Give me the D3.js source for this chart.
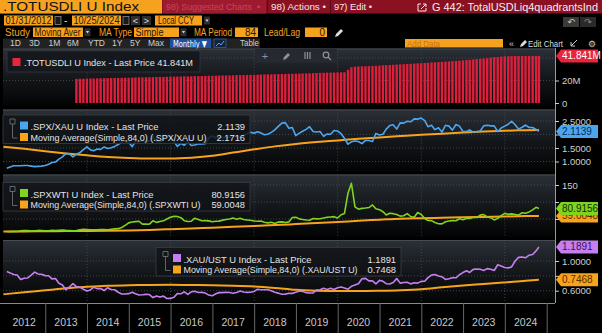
<!DOCTYPE html>
<html><head><meta charset="utf-8">
<script src="https://cdn.jsdelivr.net/npm/d3@7"></script>
<style>html,body{margin:0;padding:0;background:#000;overflow:hidden}svg{display:block;font-family:"Liberation Sans",Arial,sans-serif}</style>
</head><body><svg id="c" width="602" height="333"></svg>
<script>
// ---------- DATA ----------
const seriesStart = "2012-01";           // monthly, Jan 2012 .. Oct 2024
const lastDate = "2024-10-25";
const spxXau = [
0.75,0.80,0.84,0.84,0.84,0.85,0.85,0.83,0.81,0.82,0.83,0.85,
0.90,0.96,0.98,1.09,1.17,1.30,1.28,1.17,1.27,1.33,1.44,1.54,
1.43,1.40,1.46,1.45,1.54,1.48,1.51,1.56,1.63,1.72,1.75,1.72,
1.55,1.74,1.75,1.76,1.77,1.76,1.92,1.74,1.72,1.82,1.95,1.93,
1.74,1.56,1.67,1.60,1.73,1.59,1.61,1.66,1.65,1.66,1.87,1.95,
1.88,1.89,1.89,1.88,1.90,1.95,1.95,1.87,1.97,2.03,2.08,2.05,
2.10,2.06,1.99,2.01,2.08,2.17,2.30,2.42,2.44,2.23,2.26,1.96,
2.05,2.12,2.19,2.29,2.11,2.09,2.11,1.93,2.02,2.01,2.15,2.13,
2.03,1.86,1.64,1.73,1.76,1.74,1.66,1.78,1.78,1.74,2.04,1.98,
2.01,2.20,2.33,2.36,2.20,2.43,2.42,2.49,2.47,2.58,2.57,2.61,
2.51,2.29,2.34,2.18,2.25,2.09,2.34,2.31,2.16,2.37,2.31,2.11,
2.11,2.17,2.09,2.10,2.13,2.32,2.34,2.32,2.32,2.11,2.24,2.31,
2.38,2.49,2.36,2.20,2.27,2.35,2.26,2.26,2.19,2.1139];
const spxWti = [
13.3,12.8,13.7,13.3,15.1,16.0,15.7,14.6,15.6,16.4,15.9,15.5,
15.4,16.5,16.1,17.1,17.7,16.6,16.1,15.2,16.4,18.2,19.5,18.8,
18.3,18.1,18.4,18.9,18.7,18.6,19.7,20.9,21.6,25.1,31.2,38.6,
41.4,42.3,43.4,35.0,34.9,34.7,44.7,40.1,42.6,44.6,49.9,55.2,
57.7,57.2,53.8,45.0,42.7,43.5,52.3,48.6,45.0,45.3,44.5,41.7,
43.2,43.8,46.7,48.4,49.9,52.7,49.2,52.4,48.7,47.3,46.1,44.3,
43.6,44.1,40.7,38.6,40.4,36.6,40.9,41.6,39.8,41.5,54.2,55.2,
50.3,48.7,47.2,46.1,51.4,50.3,50.9,53.1,55.0,56.1,56.9,52.9,
62.5,65.9,126,155,85.7,78.9,81.2,82.2,83.7,91.3,80.0,77.4,
71.2,62.0,67.1,65.7,63.4,58.5,59.5,66.0,57.4,55.1,69.0,63.4,
51.2,45.7,45.2,39.5,36.0,35.8,41.9,44.1,45.1,44.8,50.6,47.8,
51.7,51.6,54.3,54.3,61.4,63.0,56.1,53.9,47.2,51.8,60.1,66.6,
63.9,65.1,63.2,61.5,68.6,67.0,70.9,76.8,84.5,80.9156];
const xauUst = [
0.857,0.840,0.818,0.812,0.750,0.768,0.772,0.810,0.850,0.824,0.820,0.803,
0.801,0.759,0.765,0.701,0.676,0.611,0.650,0.695,0.655,0.650,0.619,0.597,
0.610,0.647,0.628,0.629,0.602,0.640,0.616,0.613,0.579,0.555,0.556,0.560,
0.578,0.559,0.543,0.545,0.551,0.548,0.507,0.528,0.514,0.527,0.495,0.496,
0.512,0.560,0.558,0.585,0.550,0.585,0.593,0.575,0.577,0.568,0.541,0.531,
0.559,0.574,0.574,0.579,0.576,0.566,0.577,0.595,0.582,0.578,0.580,0.590,
0.620,0.613,0.613,0.612,0.600,0.579,0.567,0.553,0.554,0.566,0.564,0.580,
0.595,0.591,0.574,0.571,0.570,0.610,0.612,0.633,0.616,0.633,0.615,0.639,
0.651,0.637,0.621,0.659,0.676,0.693,0.760,0.766,0.732,0.733,0.691,0.739,
0.726,0.694,0.691,0.710,0.763,0.702,0.711,0.714,0.692,0.708,0.702,0.726,
0.727,0.776,0.810,0.818,0.799,0.789,0.751,0.760,0.776,0.774,0.815,0.844,
0.868,0.846,0.887,0.892,0.888,0.872,0.897,0.890,0.872,0.949,0.934,0.913,
0.907,0.921,1.000,1.049,1.053,1.043,1.078,1.088,1.136,1.1891];
const barsStart = "2013-09";             // .TOTUSDLI, millions
const totUsdLi = [
21.5,21.6,21.6,21.7,
21.8,21.8,21.9,22.0,22.1,22.1,22.2,22.3,22.3,22.4,22.5,22.5,
22.6,22.7,22.8,22.8,22.9,23.0,23.0,23.1,23.2,23.2,23.3,23.4,
23.5,23.5,23.6,23.7,23.7,23.8,23.9,23.9,24.0,24.1,24.2,24.2,
24.3,24.4,24.5,24.5,24.6,24.7,24.8,24.8,24.9,25.0,25.1,25.1,
25.2,25.3,25.4,25.5,25.5,25.6,25.7,25.8,25.9,26.0,26.0,26.1,
26.2,26.3,26.4,26.5,26.6,26.7,26.8,26.9,27.0,27.0,27.1,27.2,
27.3,27.3,29.5,31.8,32.3,32.5,32.6,32.7,32.8,33.0,33.1,33.3,
33.5,33.6,33.8,34.0,34.2,34.3,34.5,34.7,34.8,35.0,35.2,35.4,
35.6,35.8,36.0,36.2,36.4,36.6,36.8,37.0,37.2,37.4,37.6,37.9,
38.1,38.4,38.7,39.0,39.3,39.6,39.9,40.3,40.6,40.9,41.2,41.5,
41.6,41.7,41.7,41.8,41.8,41.8,41.8,41.9,41.8,41.841];
const maDates = ["2012-01","2012-07","2013-01","2013-07","2014-01","2014-07","2015-01","2015-07",
"2016-01","2016-07","2017-01","2017-07","2018-01","2018-07","2019-01","2019-07","2020-01","2020-07",
"2021-01","2021-07","2022-01","2022-07","2023-01","2023-07","2024-01","2024-07","2024-10"];
const maSpxXau = [1.55,1.47,1.38,1.30,1.23,1.17,1.13,1.11,1.11,1.14,1.21,1.33,1.45,1.56,1.65,1.72,1.78,1.84,1.89,1.94,1.99,2.03,2.07,2.11,2.14,2.16,2.1716];
const maSpxWti = [13,13.5,14,14.5,15,15.5,16.5,18,20,22,24.5,27,29.5,32,35,38,41,45,48,51,52.5,53.5,55,56,57.5,58.5,59.0048];
const maXauUst = [0.551,0.58,0.605,0.632,0.652,0.667,0.675,0.678,0.679,0.677,0.673,0.668,0.658,0.638,0.612,0.600,0.596,0.596,0.600,0.607,0.620,0.645,0.670,0.690,0.712,0.735,0.7468];
const yearLabels = ["2012","2013","2014","2015","2016","2017","2018","2019","2020","2021","2022","2023","2024"];
// tick positions; labels hidden under last-price tags are left unlabeled
const ticksP1 = [0,20], ticksP2 = [1.0,1.5,2.0,2.5], ticksP3 = [50,100,150], ticksP4 = [0.6,0.8,1.0];
const labelP1 = [0,20], labelP2 = [1.0,1.5,2.5], labelP3 = [150], labelP4 = [0.6,1.0];

// ---------- HELPERS ----------
const svg = d3.select("#c");
const parseM = d3.timeParse("%Y-%m");
function monthEnds(start, n, last){
  const s = parseM(start);
  const out = d3.range(n).map(i => new Date(s.getFullYear(), s.getMonth()+i+1, 0));
  if (last) out[n-1] = d3.timeParse("%Y-%m-%d")(last);
  return out;
}
function rect(g,x,y,w,h,fill,stroke){const r=g.append("rect").attr("x",x).attr("y",y).attr("width",w).attr("height",h).attr("fill",fill);if(stroke)r.attr("stroke",stroke).attr("stroke-width",0.8);return r;}
function T(g,x,y,s,o={}){
  const t=g.append("text").attr("x",x).attr("y",y).text(s).attr("font-size",o.size||9).attr("fill",o.fill||"#ddd");
  if(o.anchor)t.attr("text-anchor",o.anchor);
  if(o.w)t.attr("textLength",o.w).attr("lengthAdjust","spacingAndGlyphs");
  if(o.weight)t.attr("font-weight",o.weight);
  if(o.family)t.attr("font-family",o.family);
  return t;
}
const ORANGE="#f6a21e", DARKTXT="#2a1800";

// ---------- HEADER ----------
const H = svg.append("g");
rect(H,0,0,602,13.5,"#8a1121");
rect(H,0,0,162,13.5,ORANGE);
T(H,3,11.2,".TOTUSDLI U Index",{size:12.5,fill:"#111",w:136});
rect(H,163,0,103,13.5,"#9e1a2e");
T(H,166,10.3,"98) Suggested Charts",{size:9.5,fill:"#c8465a",w:86});
T(H,257,10.3,"•",{size:9,fill:"#c8465a"});
H.append("line").attr("x1",267.5).attr("x2",267.5).attr("y1",0).attr("y2",13.5).attr("stroke","#5c0914");
H.append("line").attr("x1",330.5).attr("x2",330.5).attr("y1",0).attr("y2",13.5).attr("stroke","#5c0914");
T(H,271,10.3,"98) Actions •",{size:9.5,fill:"#f3e6e8",w:55});
T(H,334,10.3,"97) Edit •",{size:9.5,fill:"#f3e6e8",w:38});
H.append("path").attr("d","M418,4 v7 h8 M418,4 h3 M426,11 v-3 M421,9 l5,-5 M423,4 h3 v3").attr("fill","none").attr("stroke","#f3e6e8").attr("stroke-width",1);
T(H,432,10.8,"G 442: TotalUSDLiq4quadrantsInd",{size:10.5,fill:"#f4eef0",w:166});

// row 2
rect(H,4,15.5,49,10,ORANGE); T(H,5.5,24,"01/31/2012",{size:10,fill:DARKTXT,w:46});
rect(H,55,16.5,6,8,"#1a1a1a","#8a8a8a");
T(H,64,24,"-",{size:10,fill:"#ddd"});
rect(H,72,15.5,49,10,ORANGE); T(H,73.5,24,"10/25/2024",{size:10,fill:DARKTXT,w:46});
rect(H,123,16.5,6,8,"#1a1a1a","#8a8a8a");
rect(H,131,16,9,9,"#2e2e2e"); T(H,135.5,23.8,"<",{size:9,fill:"#ddd",anchor:"middle"});
rect(H,142,16,9,9,"#2e2e2e"); T(H,146.5,23.8,">",{size:9,fill:"#ddd",anchor:"middle"});
rect(H,155,15.5,47,10,ORANGE); T(H,158,24,"Local CCY",{size:10,fill:DARKTXT,w:36});
rect(H,204,16.5,6,8,"#2e2e2e"); H.append("path").attr("d","M205.3,19.5 h3.4 l-1.7,2.5z").attr("fill","#ccc");
rect(H,563,17,16,10,"#3a3a3a"); T(H,571,25.3,"↶",{size:9,fill:"#ccc",anchor:"middle",family:"DejaVu Sans"});
rect(H,580,17,16,10,"#2a2a2a"); T(H,588,25.3,"↷",{size:9,fill:"#888",anchor:"middle",family:"DejaVu Sans"});

// row 3
T(H,5,36,"Study",{size:10,fill:ORANGE,w:25});
rect(H,33,27.5,50,9.5,ORANGE); T(H,34.5,35.8,"Moving Aver",{size:10,fill:DARKTXT,w:46});
rect(H,84.5,28.3,6,8,"#2e2e2e"); H.append("path").attr("d","M85.8,31 h3.4 l-1.7,2.5z").attr("fill","#ccc");
T(H,99,36,"MA Type",{size:10,fill:ORANGE,w:33});
rect(H,134,27.5,45,9.5,ORANGE); T(H,135.5,35.8,"Simple",{size:10,fill:DARKTXT,w:28});
rect(H,180.5,28.3,6,8,"#2e2e2e"); H.append("path").attr("d","M181.8,31 h3.4 l-1.7,2.5z").attr("fill","#ccc");
T(H,194,36,"MA Period",{size:10,fill:ORANGE,w:38});
rect(H,235,27.5,23,9.5,ORANGE); T(H,256,35.8,"84",{size:10,fill:DARKTXT,anchor:"end"});
T(H,264,36,"Lead/Lag",{size:10,fill:ORANGE,w:36});
rect(H,305,27.5,22,9.5,ORANGE); T(H,325,35.8,"0",{size:10,fill:DARKTXT,anchor:"end"});
H.append("path").attr("d","M335,37 l1,-3 l5,-5 l2,2 l-5,5z").attr("fill","#ddd");

// row 4
rect(H,3,38.5,257,9.5,"#222");
[["1D",10],["3D",29],["1M",48.5],["6M",67],["YTD",88],["1Y",112],["5Y",130],["Max",148]].forEach(d=>T(H,d[1],46.3,d[0],{size:8.5,fill:"#cfcfcf"}));
rect(H,170,38.5,41,9.5,"#1f509f"); T(H,173,46.5,"Monthly ▼",{size:9,fill:"#fff",w:34,family:"DejaVu Sans"});
rect(H,214,39,12,8.5,"#15233b","#2d5ea8");
H.append("path").attr("d","M216,46 l3,-3 l2,2 l3,-4").attr("fill","none").attr("stroke","#5fa0ff").attr("stroke-width",1);
T(H,240,46.3,"Table",{size:8.5,fill:"#cfcfcf",w:19});
rect(H,405,39,98,8.5,ORANGE); T(H,407,46.5,"Add Data",{size:9,fill:"#c47510",w:33});
T(H,509,46.5,"«",{size:9,fill:"#ccc"});
H.append("path").attr("d","M520,47 l1,-3 l4,-4 l2,2 l-4,4z").attr("fill","#ddd");
T(H,528,46.5,"Edit Chart",{size:9,fill:"#ddd",w:35});
H.append("path").attr("d","M571,46 l6,-6 M571,42 v4 h4").attr("fill","none").attr("stroke","#ccc");
T(H,592,47,"⚙",{size:9,fill:"#ccc",anchor:"middle",family:"DejaVu Sans"});

// ---------- SCALES ----------
const x = d3.scaleTime().domain([new Date(2012,0,1), new Date(2025,0,1)]).range([3.4,546.7]);
const PL = 3, PR = 555;
const panels = [
  {top:48.5, bot:106,  y:d3.scaleLinear().domain([0,20]).range([103,80.5])},
  {top:109.5,bot:172,  y:d3.scaleLinear().domain([1,2.5]).range([161.5,121])},
  {top:174.5,bot:237.5,y:d3.scaleLinear().domain([50,150]).range([219,185])},
  {top:240,  bot:303,  y:d3.scaleLinear().domain([0.6,1.0]).range([290.7,261])}
];
const defs = svg.append("defs");
const grad = defs.append("linearGradient").attr("id","pg").attr("x1",0).attr("x2",0).attr("y1",0).attr("y2",1);
grad.append("stop").attr("offset","0%").attr("stop-color","#2b3037");
grad.append("stop").attr("offset","55%").attr("stop-color","#121518");
grad.append("stop").attr("offset","100%").attr("stop-color","#030303");
panels.forEach((p,i)=>{
  rect(svg,PL,p.top,PR-PL,p.bot-p.top,"url(#pg)");
  svg.append("line").attr("x1",PL).attr("x2",PR).attr("y1",p.top+0.5).attr("y2",p.top+0.5).attr("stroke","#474c53");
  defs.append("clipPath").attr("id","cp"+i).append("rect").attr("x",PL).attr("y",p.top).attr("width",PR-PL).attr("height",p.bot-p.top);
});
const allTicks=[[20,40],ticksP2,ticksP3,ticksP4];
// grid
panels.forEach((p,i)=>{
  const g=svg.append("g").attr("clip-path","url(#cp"+i+")");
  allTicks[i].forEach(v=>g.append("line").attr("x1",PL).attr("x2",PR).attr("y1",p.y(v)).attr("y2",p.y(v)).attr("stroke","#4a5058").attr("stroke-dasharray","1,2").attr("stroke-width",0.8));
  [2014,2016,2018,2020,2022,2024].forEach(yr=>{const xx=x(new Date(yr,0,1));g.append("line").attr("x1",xx).attr("x2",xx).attr("y1",p.top).attr("y2",p.bot).attr("stroke","#4a5058").attr("stroke-dasharray","1,2").attr("stroke-width",0.8);});
});

// ---------- MARKS ----------
const mDates = monthEnds(seriesStart, spxXau.length, lastDate);
const bDates = monthEnds(barsStart, totUsdLi.length, lastDate);
const maD = maDates.map((d,i)=> i===maDates.length-1 ? d3.timeParse("%Y-%m-%d")(lastDate) : parseM(d));
const bw = 2.4;
const g1=svg.append("g").attr("clip-path","url(#cp0)");
g1.selectAll("rect.b").data(totUsdLi).join("rect").attr("class","b")
  .attr("x",(d,i)=>x(bDates[i])-bw/2).attr("width",bw)
  .attr("y",d=>panels[0].y(d)).attr("height",d=>panels[0].y(0)-panels[0].y(d)).attr("fill","#dc1f3c");

function drawLine(pi, dates, vals, color, w){
  const p=panels[pi];
  svg.append("path").attr("clip-path","url(#cp"+pi+")")
    .datum(vals.map((v,i)=>[dates[i],v]))
    .attr("d",d3.line().x(d=>x(d[0])).y(d=>p.y(d[1])).curve(d3.curveLinear))
    .attr("fill","none").attr("stroke",color).attr("stroke-width",w||1.6).attr("stroke-linejoin","round");
}
function drawMA(pi, vals){
  const p=panels[pi];
  svg.append("path").attr("clip-path","url(#cp"+pi+")")
    .datum(vals.map((v,i)=>[maD[i],v]))
    .attr("d",d3.line().x(d=>x(d[0])).y(d=>p.y(d[1])).curve(d3.curveMonotoneX))
    .attr("fill","none").attr("stroke","#f7a31c").attr("stroke-width",2);
}
drawMA(1, maSpxXau); drawLine(1, mDates, spxXau, "#4ba6f2");
drawMA(2, maSpxWti); drawLine(2, mDates, spxWti, "#7fd41e");
drawMA(3, maXauUst); drawLine(3, mDates, xauUst, "#c67ff0");

// ---------- RIGHT AXES ----------
const A = svg.append("g");
A.append("line").attr("x1",PR+0.5).attr("x2",PR+0.5).attr("y1",48).attr("y2",303).attr("stroke","#9a9a9a");
const fmt4 = d3.format(".4f");
const tickFmt=[v=> v===0?"0":v+"M", fmt4, d3.format("d"), fmt4];
const labelSets=[labelP1,labelP2,labelP3,labelP4];
[ticksP1,ticksP2,ticksP3,ticksP4].forEach((ts,i)=>{
  const ax = d3.axisRight(panels[i].y).tickValues(ts).tickFormat(v=> labelSets[i].includes(v) ? tickFmt[i](v) : "").tickSize(4).tickPadding(3);
  const g=A.append("g").attr("transform",`translate(${PR},0)`).call(ax);
  g.select(".domain").remove();
  g.selectAll("line").attr("stroke","#cfcfcf");
  g.selectAll("text").attr("fill","#cfcfcf").attr("font-size",9.5).attr("font-family","Liberation Sans, Arial, sans-serif");
  g.selectAll("text").filter(function(){return this.textContent==="";}).remove();
});
function tag(pi,v,txt,bg,fg){
  const yc=panels[pi].y(v);
  A.append("path").attr("d",`M556,${yc} L561,${yc-6.5} H598 V${yc+6.5} H561 Z`).attr("fill",bg);
  T(A,562,yc+3.4,txt,{size:10,fill:fg});
}
tag(0,41.841,"41.841M","#e8243f","#fff");
tag(1,2.1139,"2.1139","#4ba6f2","#0c2c55");
tag(2,59.0048,"59.0048","#f7a31c","#5a2e00");
tag(2,80.9156,"80.9156","#7fd41e","#153000");
tag(3,1.1891,"1.1891","#c67ff0","#3b0f5a");
tag(3,0.7468,"0.7468","#f7a31c","#5a2e00");

// ---------- X AXIS ----------
const X = svg.append("g");
X.append("line").attr("x1",0).attr("x2",555).attr("y1",303.5).attr("y2",303.5).attr("stroke","#8a8a8a");
const xa = d3.axisBottom(x).tickValues(d3.range(2013,2026).map(y=>new Date(y,0,1))).tickSize(30).tickFormat("");
const xg = X.append("g").attr("transform","translate(0,303)").call(xa);
xg.select(".domain").remove(); xg.selectAll("line").attr("stroke","#666");
yearLabels.forEach(y=>T(X,x(new Date(+y,6,1)),326,y,{size:10.5,fill:"#c8c8c8",anchor:"middle"}));

// ---------- LEGENDS ----------
const L = svg.append("g");
// panel 1
rect(L,7,51,193,21,"#15181c","#33373c");
rect(L,12.5,58,8,8,"#e8243f");
T(L,24,65.5,".TOTUSDLI U Index - Last Price 41.841M",{size:9.5,fill:"#e4e4e4",w:169});
// toolbar
rect(L,255,49,82,13.5,"#262a30");
T(L,265,59.5,"+",{size:11,fill:"#8d939a",anchor:"middle"});
L.append("path").attr("d","M283,60 l1,-3 l4,-4 l2,2 l-4,4z").attr("fill","#8d939a");
L.append("path").attr("d","M305,52 v7 M307.5,52 v7 M310,52 v7").attr("stroke","#8d939a").attr("stroke-width",1.2);
L.append("circle").attr("cx",326).attr("cy",55).attr("r",2.8).attr("fill","none").attr("stroke","#8d939a").attr("stroke-width",1.2);
L.append("path").attr("d","M328,57 l3,3").attr("stroke","#8d939a").attr("stroke-width",1.3);

function legend(x0,y0,w,sq,l1,v1,l1w,l2,v2,l2w){
  rect(L,x0,y0,w,28.5,"rgba(16,18,22,0.82)","#3a3e44");
  L.append("path").attr("d",`M${x0+7},${y0+4} h5 v5 h-5z M${x0+9.5},${y0+9} v14 h5`).attr("fill","none").attr("stroke","#7a7a7a").attr("stroke-width",0.8);
  rect(L,x0+17,y0+6.5,8,8,sq);
  rect(L,x0+17,y0+18,8,8,"#f7a31c");
  T(L,x0+27.5,y0+15,l1,{size:9.3,fill:"#e4e4e4",w:l1w});
  T(L,x0+w-5,y0+15,v1,{size:9.3,fill:"#e4e4e4",anchor:"end"});
  T(L,x0+27.5,y0+25.8,l2,{size:8.8,fill:"#e4e4e4",w:l2w});
  T(L,x0+w-5,y0+25.8,v2,{size:9.3,fill:"#e4e4e4",anchor:"end"});
}
legend(3,115,247,"#4ba6f2",".SPX/XAU U Index - Last Price","2.1139",128,"Moving Average(Simple,84,0) (.SPX/XAU U)","2.1716",176);
legend(3,182.5,247,"#7fd41e",".SPXWTI U Index - Last Price","80.9156",123,"Moving Average(Simple,84,0) (.SPXWTI U)","59.0048",170);
legend(156,247.5,245,"#c67ff0",".XAU/UST U Index - Last Price","1.1891",128,"Moving Average(Simple,84,0) (.XAU/UST U)","0.7468",174);
</script></body></html>
